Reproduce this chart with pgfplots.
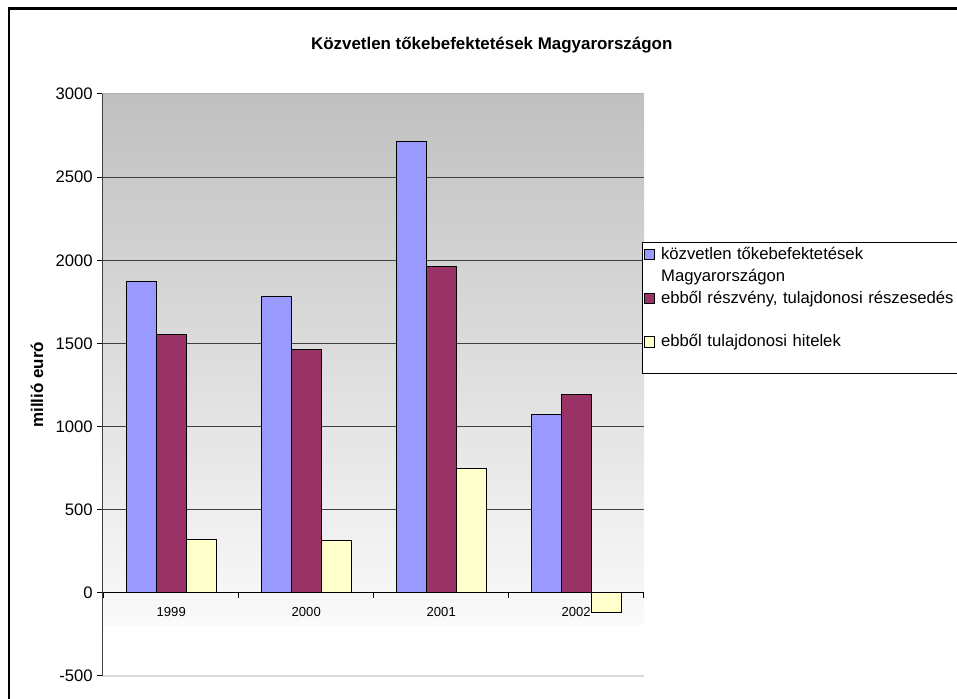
\documentclass[border=0pt]{standalone}
\usepackage{pgfplots}
\pgfplotsset{compat=1.18}
\usepackage{fontspec}
\setmainfont{Liberation Sans}
\definecolor{cblue}{HTML}{9999FF}
\definecolor{cmaroon}{HTML}{993366}
\definecolor{cyellow}{HTML}{FFFFCC}
\definecolor{gridc}{HTML}{404040}
\begin{document}
\begin{tikzpicture}
\draw[line width=1.6pt] (6.5pt,-15pt) -- (6.5pt,517.9pt) -- (750pt,517.9pt);
\node[font=\fontsize{12.7}{15}\bfseries\selectfont] at (368.8pt,490.5pt) {Közvetlen tőkebefektetések Magyarországon};
\node[font=\fontsize{12.7}{15}\bfseries\selectfont, rotate=90] at (27.75pt,235.7pt) {millió euró};
\begin{axis}[
  at={(76.5pt,17.25pt)}, anchor=south west,
  scale only axis, width=406.5pt, height=436.5pt,
  set layers,
  xmin=-0.513, xmax=3.502, ymin=-500, ymax=3000,
  axis x line=middle, axis y line=left,
  axis line style={-},
  x axis line style={black, line width=0.75pt},
  y axis line style={gridc, line width=0.75pt},
  hide obscured x ticks=false, hide obscured y ticks=false,
  tick align=outside,
  xtick={-0.5,0.5,1.5,2.5,3.5}, xticklabels={},
  extra x ticks={0,1,2,3}, extra x tick labels={1999,2000,2001,2002},
  extra x tick style={major tick length=0pt},
  ytick={-500,0,500,1000,1500,2000,2500,3000},
  yticklabels={-500,0,500,1000,1500,2000,2500,3000},
  extra y ticks={500,1000,1500,2000,2500}, extra y tick labels={},
  extra y tick style={grid=major, major grid style={gridc, line width=0.75pt}},
  major tick length=3.5pt,
  tick style={black, line width=0.75pt},
  yticklabel style={font=\fontsize{12.5}{15}\selectfont},
  xticklabel style={font=\fontsize{9.8}{12}\selectfont, yshift=-7.5pt},
  legend style={at={(0.996,0.7462)}, anchor=north west, draw=black, line width=0.75pt, fill=white,
    inner xsep=1pt, inner ysep=2.5pt, row sep=4.35pt, column sep=3.5pt,
    cells={anchor=base west},
    nodes={text width=235pt, inner xsep=1pt, inner ysep=0pt, font=\fontsize{12.5}{15}\selectfont}},
]
\begin{pgfonlayer}{axis background}
\shade[top color={rgb,255:red,192;green,192;blue,192}, bottom color={rgb,255:red,250;green,250;blue,250}]
  (axis cs:-0.513,-190) rectangle (axis cs:3.502,3000);
\draw[gray!60, line width=0.75pt] (axis cs:-0.513,3000) -- (axis cs:3.502,3000);
\draw[gray!30, line width=1.5pt] (axis cs:-0.513,-500) -- (axis cs:3.502,-500);
\end{pgfonlayer}
\addplot[ybar, bar width=0.222, bar shift=-0.222, fill=cblue, draw=black, line width=0.75pt,
  legend image code/.code={\draw[fill=cblue, draw=black, line width=0.6pt] (0pt,-0.2pt) rectangle (8pt,7.6pt);}]
  coordinates {(0,1870) (1,1780) (2,2715) (3,1075)};
\addlegendentry{\strut közvetlen tőkebefektetések}
\addlegendimage{empty legend}
\addlegendentry{\strut Magyarországon}
\addplot[ybar, bar width=0.222, bar shift=0, fill=cmaroon, draw=black, line width=0.75pt,
  legend image code/.code={\draw[fill=cmaroon, draw=black, line width=0.6pt] (0pt,-0.2pt) rectangle (8pt,7.6pt);}]
  coordinates {(0,1555) (1,1465) (2,1965) (3,1190)};
\addlegendentry{\strut ebből részvény, tulajdonosi részesedés}
\addlegendimage{empty legend}
\addlegendentry{\strut\mbox{}}
\addplot[ybar, bar width=0.222, bar shift=0.222, fill=cyellow, draw=black, line width=0.75pt,
  legend image code/.code={\draw[fill=cyellow, draw=black, line width=0.6pt] (0pt,-0.2pt) rectangle (8pt,7.6pt);}]
  coordinates {(0,320) (1,315) (2,745) (3,-120)};
\addlegendentry{\strut ebből tulajdonosi hitelek}
\addlegendimage{empty legend}
\addlegendentry{\strut\mbox{}}
\end{axis}
\pgfresetboundingbox
\useasboundingbox (0pt,0pt) rectangle (717.75pt,524.25pt);
\end{tikzpicture}
\end{document}
